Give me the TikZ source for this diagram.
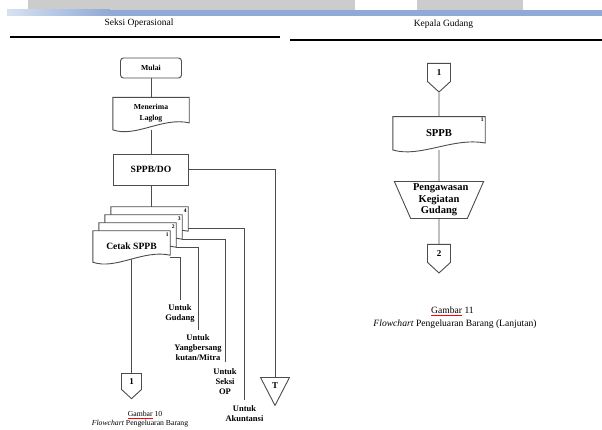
\documentclass[tikz,border=0pt]{standalone}
\usepackage{fontspec}
\setmainfont{Liberation Serif}
\usetikzlibrary{shapes.geometric, shapes.symbols, positioning, calc}

\definecolor{rulerblue}{RGB}{143,170,214}
\definecolor{rulergray}{RGB}{204,204,204}

\pgfdeclarelayer{lines}
\pgfdeclarelayer{sheets}
\pgfsetlayers{lines,sheets,main}

% document symbol drawn round an (invisible) node
\newcommand{\docsheet}[1]{%
  \draw[sheet] (#1.north west) -- (#1.north east) -- ([yshift=7pt]#1.south east)
    .. controls ([yshift=13pt]$(#1.south east)!0.35!(#1.south west)$)
    and ([yshift=-8pt]$(#1.south east)!0.7!(#1.south west)$) .. (#1.south west) -- cycle;}
\newcommand{\spellmark}[1]{\textcolor{red}{\underline{\textcolor{black}{#1}}}}

\begin{document}
\begin{tikzpicture}[x=1pt, y=-1pt,
  flow/.style={draw=black!70, line width=0.9pt},
  sheet/.style={draw=black!70, line width=0.9pt, fill=white},
  startbox/.style={rectangle, draw=black!70, line width=0.9pt, rounded corners=3pt, fill=white,
                minimum width=61pt, minimum height=20pt, font=\fontsize{7.7}{9}\selectfont\bfseries},
  proc/.style={rectangle, draw=black!70, line width=0.9pt, fill=white, minimum width=75pt,
               minimum height=31pt, font=\fontsize{9.6}{11}\selectfont\bfseries},
  docbox/.style={rectangle, minimum width=77pt, minimum height=31pt, align=center,
                 font=\fontsize{9.6}{11}\selectfont\bfseries},
  docnum/.style={anchor=north east, inner sep=1.5pt, font=\fontsize{5.5}{6}\selectfont\bfseries},
  manual/.style={trapezium, shape border rotate=180, trapezium angle=65, trapezium stretches=true,
                 draw=black!70, line width=0.9pt, fill=white, minimum width=90pt, minimum height=37pt,
                 inner sep=0pt, text width=52pt, align=center, font=\fontsize{10.5}{11.5}\selectfont\bfseries},
  offpage/.style={signal, signal to=south, signal pointer angle=95, draw=black!70, line width=0.9pt,
                  fill=white, minimum width=20pt, minimum height=19pt, inner sep=1pt,
                  font=\fontsize{9}{10}\selectfont\bfseries},
  endtri/.style={isosceles triangle, shape border rotate=270, isosceles triangle apex angle=55,
               isosceles triangle stretches=true, draw=black!70, line width=0.9pt, fill=white,
               minimum width=29pt, minimum height=28pt, inner sep=1pt, font=\fontsize{9}{10}\selectfont\bfseries},
  untuk/.style={align=center, inner sep=1pt, font=\fontsize{8.5}{10}\selectfont\bfseries},
  lanehead/.style={font=\fontsize{9.5}{11}\selectfont},
  captext/.style={inner sep=0.5pt, font=\fontsize{7.7}{9}\selectfont}
]
\useasboundingbox (0,0) rectangle (602,430);

% ruler strip at the top
\fill[rulergray] (28,0) rectangle (355,10);
\fill[rulergray] (417,0) rectangle (523,10);
\shade[left color=rulerblue!35, right color=rulerblue] (7,10) rectangle (110,16);
\fill[rulerblue] (110,10) rectangle (602,16);

% lane headers
\node[lanehead] (hdops) at (139,23) {Seksi Operasional};
\node[lanehead] (hdgud) at (443.5,24) {Kepala Gudang};
\draw[line width=1.5pt] (10,37) -- (280,37);
\draw[line width=1.8pt] (290,40) -- (602,40);

% Seksi Operasional
\node[startbox] (mulai) at (151,68) {Mulai};
\node[docbox, minimum width=76pt, minimum height=32pt, below=19pt of mulai,
      font=\fontsize{7.7}{11}\selectfont\bfseries] (terima) {Menerima\\Laglog};
\node[proc, below=24pt of terima] (sppbdo) {SPPB/DO};
\node[docbox] (cetak4) at (149.5,222.5) {};
\node[docbox] (cetak3) at (143.5,230.5) {};
\node[docbox] (cetak2) at (137.5,238.5) {};
\node[docbox] (cetak1) at (131.5,246.5) {Cetak SPPB};
\node[docnum] at (cetak4.north east) {4};
\node[docnum] at (cetak3.north east) {3};
\node[docnum] at (cetak2.north east) {2};
\node[docnum] at (cetak1.north east) {1};

\coordinate (endgud) at (180,300);
\coordinate (endmitra) at (198,330);
\coordinate (endop) at (225,362);
\coordinate (endakun) at (244.5,400);
\node[untuk, below=3pt of endgud] (lblgud) {Untuk\\Gudang};
\node[untuk, below=3pt of endmitra] (lblmitra) {Untuk\\Yangbersang\\kutan/Mitra};
\node[untuk, below=5pt of endop] (lblop) {Untuk\\Seksi\\OP};
\node[untuk, below=4pt of endakun] (lblakun) {Untuk\\Akuntansi};

\node[offpage, anchor=north] (off1) at (131.5,373) {1};
\node[endtri, anchor=north] (tend) at (275,377) {T};

\node[captext] (cap10a) at (145,415) {\spellmark{Gambar} 10};
\node[captext] (cap10b) at (140,424) {\textit{Flowchart} Pengeluaran Barang};

% Kepala Gudang
\node[offpage, minimum width=23pt, minimum height=21pt, anchor=north] (off1b) at (439,63) {1};
\node[docbox, minimum width=92pt, minimum height=33pt, below=24pt of off1b,
      font=\fontsize{10.6}{12}\selectfont\bfseries] (sppb) {SPPB};
\node[docnum] at (sppb.north east) {1};
\node[manual, below=31pt of sppb] (awas) {Pengawasan\\Kegiatan\\Gudang};
\node[offpage, minimum width=23pt, minimum height=21pt, below=25pt of awas] (off2) {2};

\node[captext, font=\fontsize{9.6}{11}\selectfont] (cap11a) at (452.5,311) {\spellmark{Gambar} 11};
\node[captext, font=\fontsize{9.6}{11}\selectfont] (cap11b) at (455,324) {\textit{Flowchart} Pengeluaran Barang (Lanjutan)};

% document outlines
\begin{pgfonlayer}{sheets}
  \docsheet{terima}
  \docsheet{cetak4}
  \docsheet{cetak3}
  \docsheet{cetak2}
  \docsheet{cetak1}
  \docsheet{sppb}
\end{pgfonlayer}

% connectors
\begin{pgfonlayer}{lines}
  \draw[flow] (mulai) -- (terima);
  \draw[flow] (terima) -- (sppbdo);
  \draw[flow] (sppbdo.south) -- (sppbdo.south |- cetak4.north);
  \draw[flow] (sppbdo.east) -| (tend.north);
  \draw[flow] ([yshift=-10.5pt]cetak1.east) -| (endgud);
  \draw[flow] ([yshift=-8.5pt]cetak2.east) -| (endmitra);
  \draw[flow] ([yshift=-8.5pt]cetak3.east) -| (endop);
  \draw[flow] ([yshift=-5.5pt]cetak4.east) -| (endakun);
  \draw[flow] (cetak1.center) -- (off1.north);
  \draw[flow] (off1b) -- (sppb);
  \draw[flow] (sppb) -- (awas);
  \draw[flow] (awas) -- (off2);
\end{pgfonlayer}
\end{tikzpicture}
\end{document}
